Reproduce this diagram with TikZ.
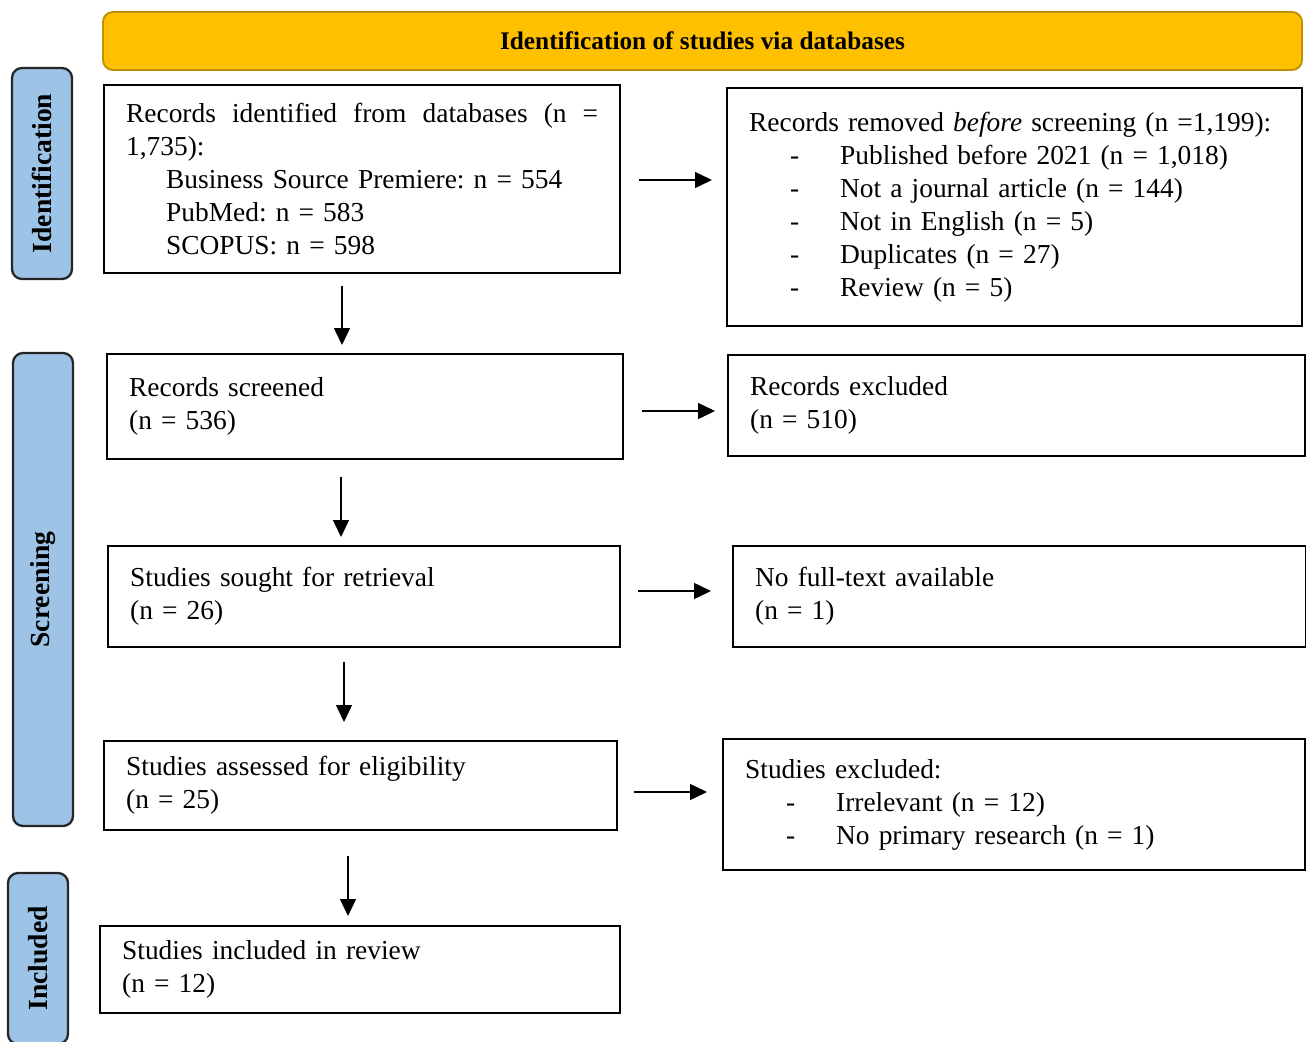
\documentclass[tikz,border=0pt]{standalone}
\usepackage{fontspec}
\setmainfont{Liberation Serif}
\usetikzlibrary{arrows.meta,positioning}

\definecolor{phaseblue}{HTML}{9DC3E6}
\definecolor{bandgold}{HTML}{FFC000}
\definecolor{bandedge}{HTML}{BF9000}

\newcommand{\dashline}[1]{\hspace*{0.82cm}\makebox[1.0cm][l]{-}#1}
\newcommand{\subline}[1]{\hspace*{0.8cm}#1}

\begin{document}
\begin{tikzpicture}[
    font=\fontsize{15.6pt}{18.8pt}\selectfont\frenchspacing,
    stage/.style={draw, line width=1.3pt, inner xsep=0.44cm, inner ysep=0pt, align=left, anchor=north west},
    phase/.style={draw=black!85, fill=phaseblue, line width=1.3pt, rounded corners=0.2cm, rotate=90,
        minimum height=1.2cm, inner sep=0pt, font=\fontsize{15.7pt}{18pt}\selectfont\bfseries},
    band/.style={draw=bandedge, fill=bandgold, line width=1.1pt, rounded corners=0.2cm,
        minimum width=23.98cm, minimum height=1.16cm, font=\fontsize{14.4pt}{17pt}\selectfont\bfseries},
    flow/.style={line width=0.85pt, -{Triangle[length=0.34cm,width=0.32cm]}},
]
    \useasboundingbox (0,0) rectangle (26.12,-20.84);

    % header and phases
    \node[band] (head) at (14.05,-0.82) {Identification of studies via databases};
    \node[phase, minimum width=4.22cm] (identlab) at (0.84,-3.47) {Identification};
    \node[phase, minimum width=9.46cm] (screenlab) at (0.86,-11.79) {Screening};
    \node[phase, minimum width=3.42cm] (inclab) at (0.76,-19.17) {Included};

    % left column
    \node[stage, text width=9.44cm, minimum height=3.76cm] (recid) at (2.06,-1.68)
        {\hbox to 9.44cm{Records\hfill identified\hfill from\hfill databases\hfill (n\hfill =}\\
         1,735):\\
         \subline{Business Source Premiere: n = 554}\\
         \subline{PubMed: n = 583}\\
         \subline{SCOPUS: n = 598}};
    \node[stage, text width=9.44cm, minimum height=2.1cm] (recscr) at (2.12,-7.06)
        {Records screened\\(n = 536)};
    \node[stage, text width=9.36cm, minimum height=2.02cm] (sought) at (2.14,-10.9)
        {Studies sought for retrieval\\(n = 26)};
    \node[stage, text width=9.38cm, minimum height=1.78cm] (assessed) at (2.06,-14.8)
        {Studies assessed for eligibility\\(n = 25)};
    \node[stage, text width=9.52cm, minimum height=1.74cm] (included) at (1.98,-18.5)
        {Studies included in review\\(n = 12)};

    % right column
    \node[stage, text width=10.62cm, minimum height=4.76cm] (removed) at (14.52,-1.74)
        {\mbox{Records removed \emph{before} screening (n =1,199):}\\
         \dashline{Published before 2021 (n = 1,018)}\\
         \dashline{Not a journal article (n = 144)}\\
         \dashline{Not in English (n = 5)}\\
         \dashline{Duplicates (n = 27)}\\
         \dashline{Review (n = 5)}};
    \node[stage, text width=10.66cm, minimum height=2.02cm] (excluded) at (14.54,-7.08)
        {Records excluded\\(n = 510)};
    \node[stage, text width=10.58cm, minimum height=2.02cm] (nofull) at (14.64,-10.9)
        {No full-text available\\(n = 1)};
    \node[stage, text width=10.76cm, minimum height=2.62cm] (studexcl) at (14.44,-14.76)
        {Studies excluded:\\
         \dashline{Irrelevant (n = 12)}\\
         \dashline{No primary research (n = 1)}};

    % downward flow
    \draw[flow, shorten <=0.24cm, shorten >=0.16cm] (recid.south -| 6.84,0) -- (recscr.north -| 6.84,0);
    \draw[flow, shorten <=0.34cm, shorten >=0.16cm] (recscr.south -| 6.82,0) -- (sought.north -| 6.82,0);
    \draw[flow, shorten <=0.28cm, shorten >=0.36cm] (sought.south -| 6.88,0) -- (assessed.north -| 6.88,0);
    \draw[flow, shorten <=0.5cm, shorten >=0.18cm] (assessed.south -| 6.96,0) -- (included.north -| 6.96,0);

    % sideways flow
    \draw[flow, shorten <=0.36cm, shorten >=0.28cm] (recid.east |- 0,-3.6) -- (removed.west |- 0,-3.6);
    \draw[flow, shorten <=0.36cm, shorten >=0.24cm] (recscr.east |- 0,-8.22) -- (excluded.west |- 0,-8.22);
    \draw[flow, shorten <=0.34cm, shorten >=0.42cm] (sought.east |- 0,-11.82) -- (nofull.west |- 0,-11.82);
    \draw[flow, shorten <=0.32cm, shorten >=0.3cm] (assessed.east |- 0,-15.84) -- (studexcl.west |- 0,-15.84);
\end{tikzpicture}
\end{document}
